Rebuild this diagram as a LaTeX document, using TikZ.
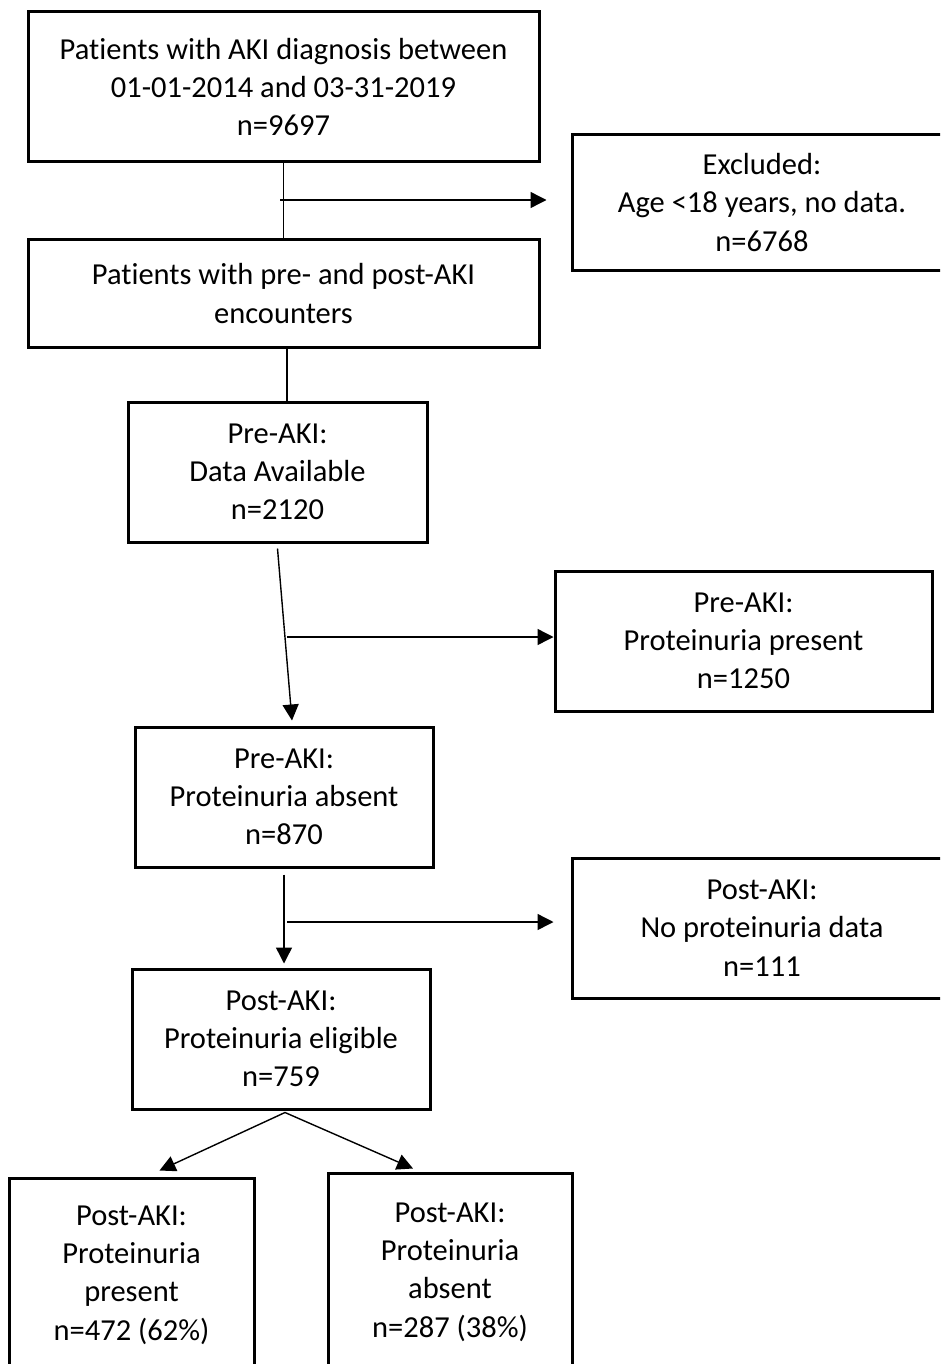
\documentclass[tikz,border=0pt]{standalone}
\usepackage{fontspec}
\setmainfont{Carlito}[Ligatures=NoCommon]
\usetikzlibrary{arrows.meta}
\tikzset{
  flowbox/.style={draw, line width=3pt, rectangle, align=center, inner sep=0pt,
    font=\fontsize{30.5}{38.3}\selectfont},
  arr/.style={line width=1.4pt, -{Triangle[length=16pt,width=16pt]}},
  plain/.style={line width=1.4pt}
}
\begin{document}
\begin{tikzpicture}[x=1pt,y=1pt]
\fill[white] (0,0) rectangle (940,-1364);
\useasboundingbox (0,0) rectangle (940,-1364);
\clip (0,0) rectangle (940,-1364);
\node[flowbox, minimum width=511pt, minimum height=150pt] (b1) at (283.5,-87)
  {Patients with AKI diagnosis between\\01-01-2014 and 03-31-2019\\n=9697};
\node[flowbox, minimum width=380pt, minimum height=135pt] (b2) at (762,-202.5)
  {Excluded:\\Age <18 years, no data.\\n=6768};
\node[flowbox, minimum width=511pt, minimum height=107pt] (b3) at (283.5,-293.5)
  {Patients with pre- and post-AKI\\encounters};
\node[flowbox, minimum width=299pt, minimum height=140pt] (b4) at (277.5,-472)
  {Pre-AKI:\\Data Available\\n=2120};
\node[flowbox, minimum width=377pt, minimum height=140pt] (b6) at (743.5,-641)
  {Pre-AKI:\\Proteinuria present\\n=1250};
\node[flowbox, minimum width=298pt, minimum height=140pt] (b5) at (284,-797)
  {Pre-AKI:\\Proteinuria absent\\n=870};
\node[flowbox, minimum width=380pt, minimum height=140pt] (b8) at (762,-928)
  {Post-AKI:\\No proteinuria data\\n=111};
\node[flowbox, minimum width=298pt, minimum height=140pt] (b7) at (281,-1039)
  {Post-AKI:\\Proteinuria eligible\\n=759};
\node[flowbox, minimum width=245pt, minimum height=194pt] (b9) at (131.5,-1275)
  {Post-AKI:\\Proteinuria\\present\\n=472 (62\%)};
\node[flowbox, minimum width=244pt, minimum height=198pt] (b10) at (450,-1272)
  {Post-AKI:\\Proteinuria\\absent\\n=287 (38\%)};
% connectors
\draw[plain] (b1.south) -- (b3.north);
\coordinate (c1) at (280,-200);
\draw[arr, shorten >=24pt] (c1) -- (c1 -| b2.west);
\draw[plain] ([xshift=3.5pt]b3.south) -- ([xshift=3.5pt]b3.south |- b4.north);
\draw[arr] ([yshift=-5pt]b4.south) -- ([xshift=8pt,yshift=5pt]b5.north);
\coordinate (c2) at (287,-637);
\draw[arr] (c2) -- (c2 -| b6.west);
\draw[arr] ([yshift=-6pt]b5.south) -- ([yshift=4pt]b5.south |- b7.north);
\coordinate (c3) at (287,-922);
\draw[arr, shorten >=17pt] (c3) -- (c3 -| b8.west);
\draw[arr] ([xshift=4pt,yshift=-2pt]b7.south) -- ([xshift=28pt,yshift=6pt]b9.north);
\draw[arr] ([xshift=4pt,yshift=-2pt]b7.south) -- ([xshift=-37pt,yshift=3pt]b10.north);
\end{tikzpicture}
\end{document}
